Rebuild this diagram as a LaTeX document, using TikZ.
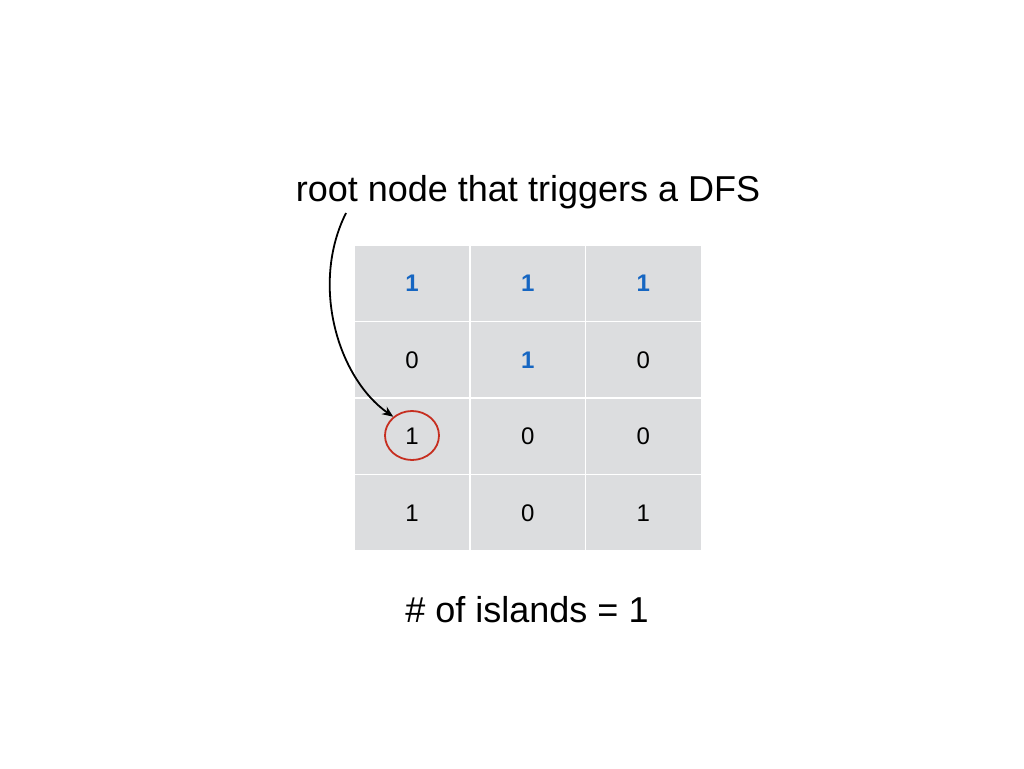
\documentclass[tikz,border=0pt]{standalone}
\usepackage{fontspec}
\setmainfont{Liberation Sans}
\usetikzlibrary{arrows.meta,shapes.geometric}
\definecolor{cellgray}{RGB}{220,221,223}
\definecolor{oneblue}{RGB}{22,102,194}
\definecolor{circred}{RGB}{198,46,32}
\tikzset{
  cell/.style={rectangle, fill=cellgray, draw=white, line width=1.5pt,
    minimum width=115.7pt, minimum height=76.5pt, inner sep=0pt,
    font=\fontsize{24}{24}\selectfont, text=black},
  hot/.style={text=oneblue, font=\fontsize{24}{24}\selectfont\bfseries},
  label/.style={font=\fontsize{36}{36}\selectfont, anchor=base, inner sep=0pt},
  ring/.style={ellipse, draw=circred, line width=1.8pt, minimum width=54pt, minimum height=49pt, inner sep=0pt},
  pointer/.style={-{Stealth[length=11pt,width=9pt]}, line width=1.8pt, black}
}
\begin{document}
\begin{tikzpicture}[x=1pt,y=-1pt]
\useasboundingbox (0,0) rectangle (1024,768);
% grid
\foreach \r/\y in {1/283.3,2/359.8,3/436.3,4/512.8}{
  \foreach \c/\x in {1/412,2/527.7,3/643.4}{
    \node[cell] (c\r\c) at (\x,\y) {};
  }
}
\node[hot] at (c11) {1};
\node[hot] at (c12) {1};
\node[hot] at (c13) {1};
\node at (c21) {\fontsize{24}{24}\selectfont 0};
\node[hot] at (c22) {1};
\node at (c23) {\fontsize{24}{24}\selectfont 0};
\node at (c31) {\fontsize{24}{24}\selectfont 1};
\node at (c32) {\fontsize{24}{24}\selectfont 0};
\node at (c33) {\fontsize{24}{24}\selectfont 0};
\node at (c41) {\fontsize{24}{24}\selectfont 1};
\node at (c42) {\fontsize{24}{24}\selectfont 0};
\node at (c43) {\fontsize{24}{24}\selectfont 1};
% ring
\node[ring] (circ) at (412,435.5) {};
% labels
\node[label] (title) at (528,201) {root node that triggers a DFS};
\node[label] (count) at (527,622) {\# of islands = 1};
% pointer
\coordinate (start) at (346,213);
\draw[pointer] (start) .. controls (310,285) and (338,378) .. (circ.135);
\end{tikzpicture}
\end{document}
